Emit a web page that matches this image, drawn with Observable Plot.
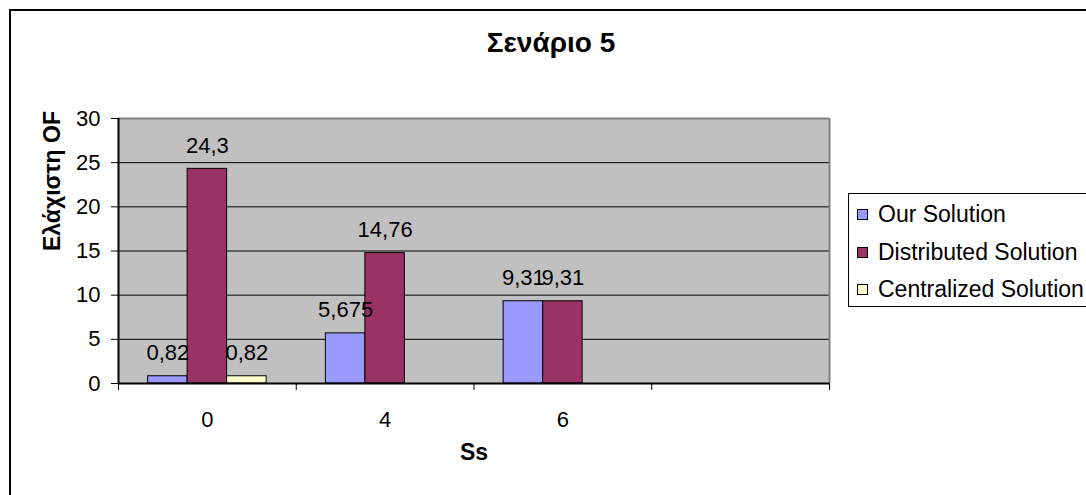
<!DOCTYPE html>
<html>
<head>
<meta charset="utf-8">
<script src="https://cdn.jsdelivr.net/npm/d3@7"></script>
<script src="https://cdn.jsdelivr.net/npm/@observablehq/plot@0.6"></script>
<style>
  body { margin: 0; background: #fff; font-family: "Liberation Sans", Arial, sans-serif; }
  #chart { position: relative; width: 1086px; height: 495px; overflow: hidden; background: #fff; }
  #border { position: absolute; left: 9px; top: 9px; width: 1200px; height: 600px;
            border-left: 2px solid #000; border-top: 2px solid #000; }
  #title { position: absolute; left: 401px; width: 300px; top: 29px; text-align: center;
           font-size: 28px; font-weight: bold; line-height: 1; color: #000; }
  #plot { position: absolute; left: 0; top: 0; }
  #legend { position: absolute; left: 848px; top: 193px; width: 320px; height: 114px;
            box-sizing: border-box; border: 1px solid #000; background: #fff; }
  .row { position: absolute; left: 8px; height: 24px; display: flex; align-items: center;
         font-size: 23px; white-space: nowrap; color: #000; }
  .sw { width: 11px; height: 11px; box-sizing: border-box; border: 1px solid #000; margin-right: 10px; }
</style>
</head>
<body>
<div id="chart">
  <div id="border"></div>
  <div id="title"></div>
  <div id="plot"></div>
  <div id="legend"></div>
</div>
<script>
// Scenario 5: minimum OF per Ss value for the three solutions
const title = "Σενάριο 5";
const categories = ["0", "4", "6", ""];            // Ss values (last slot left empty)
const series = ["Our Solution", "Distributed Solution", "Centralized Solution"];
const ourSolution = [0.82, 5.675, 9.31];
const distributedSolution = [24.3, 14.76, 9.31];
const centralizedSolution = [0.82, null, null];
const seriesColors = ["#9999FF", "#993366", "#FFFFCC"];
const yTicks = [0, 5, 10, 15, 20, 25, 30];
const yLabel = "Ελάχιστη OF";
const xLabel = "Ss";

document.getElementById("title").textContent = title;

// Excel-style clustered columns: gap width 150% of a column
const seriesValues = [ourSolution, distributedSolution, centralizedSolution];
const colWidth = 1 / (series.length + 1.5);
const rows = [];
seriesValues.forEach((vals, s) => {
  vals.forEach((v, i) => {
    if (v == null) return;
    const x1 = i + 0.75 * colWidth + s * colWidth;
    rows.push({category: categories[i], series: series[s], value: v, x1, x2: x1 + colWidth});
  });
});

const fmt = v => String(v).replace(".", ",");
const nCat = categories.length;

const chart = Plot.plot({
  width: 1086,
  height: 495,
  marginLeft: 118,
  marginRight: 257,
  marginTop: 118,
  marginBottom: 112,
  style: {fontFamily: "'Liberation Sans', Arial, sans-serif", fontSize: "22px", background: "transparent", color: "#000"},
  x: {domain: [0, nCat], axis: null},
  y: {domain: [0, 30], axis: null},
  color: {domain: series, range: seriesColors},
  marks: [
    Plot.frame({fill: "#C0C0C0", stroke: null}),
    Plot.gridY({ticks: yTicks.slice(1, -1), stroke: "#000", strokeOpacity: 1, strokeWidth: 1}),
    Plot.ruleY([30], {stroke: "#808080", strokeWidth: 2}),
    Plot.ruleX([nCat], {stroke: "#808080", strokeWidth: 2}),
    Plot.rectY(rows, {x1: "x1", x2: "x2", y: "value", fill: "series", stroke: "#000", strokeWidth: 1}),
    Plot.ruleX([0], {stroke: "#000", strokeWidth: 2}),
    Plot.ruleY([0], {stroke: "#000", strokeWidth: 2}),
    Plot.axisY({ticks: yTicks, tickSize: 7, tickPadding: 11, tickFormat: d => String(d), label: null, stroke: "#000"}),
    Plot.axisX({ticks: d3.range(nCat + 1), tickSize: 7, tickFormat: () => "", label: null, stroke: "#000"}),
    Plot.axisX({ticks: categories.map((c, i) => i + 0.5), tickSize: 0, tickPadding: 28,
                tickFormat: v => categories[Math.floor(v)], label: null}),
    // axis titles
    Plot.text([yLabel], {frameAnchor: "left", rotate: -90, dx: -66, fontWeight: "bold", fontSize: 23, fill: "#000"}),
    Plot.text([xLabel], {frameAnchor: "bottom", dy: 76, fontWeight: "bold", fontSize: 23, fill: "#000"}),
    // value labels above the columns
    Plot.text(rows, {x: d => (d.x1 + d.x2) / 2, y: "value", text: d => fmt(d.value), dy: -23, fontSize: 22, fill: "#000"})
  ]
});
document.getElementById("plot").appendChild(chart);

// Legend box on the right
const legend = document.getElementById("legend");
const rowCenters = [20, 58, 95];
series.forEach((name, s) => {
  const r = document.createElement("div");
  r.className = "row";
  r.style.top = (rowCenters[s] - 12) + "px";
  const sw = document.createElement("div");
  sw.className = "sw";
  sw.style.background = seriesColors[s];
  const t = document.createElement("span");
  t.textContent = name;
  r.appendChild(sw);
  r.appendChild(t);
  legend.appendChild(r);
});
</script>
</body>
</html>
